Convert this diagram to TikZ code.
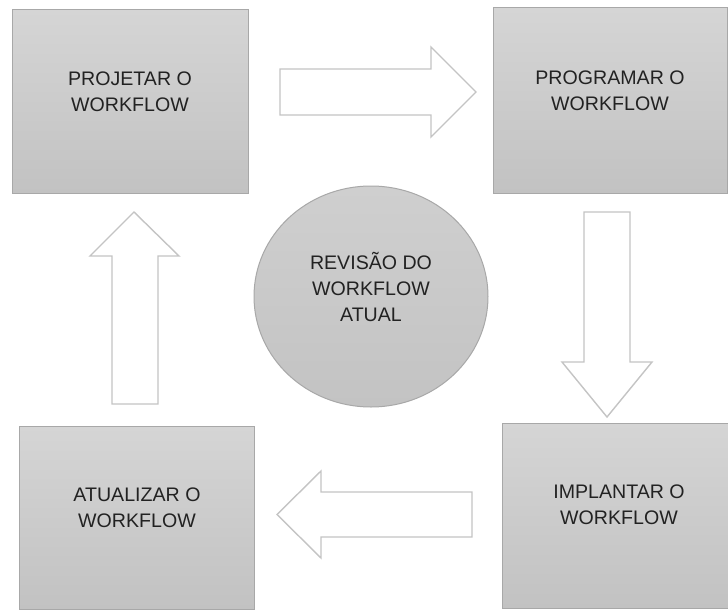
\documentclass[tikz,border=0pt]{standalone}
\usepackage{fontspec}
\setmainfont{Liberation Sans}
\usetikzlibrary{shapes.geometric}
\definecolor{boxtop}{HTML}{D5D5D5}
\definecolor{boxbot}{HTML}{C2C2C2}
\definecolor{hubtop}{HTML}{CFCFCF}
\definecolor{hubbot}{HTML}{C3C3C3}
\definecolor{boxedge}{HTML}{A8A8A8}
\definecolor{arrowedge}{HTML}{C4C4C4}
\definecolor{ink}{HTML}{222222}
\begin{document}
\begin{tikzpicture}[x=1pt,y=-1pt,
  stepbox/.style={draw=boxedge, line width=1pt, top color=boxtop, bottom color=boxbot, inner sep=0pt},
  hub/.style={ellipse, draw=boxedge, line width=1pt, top color=hubtop, bottom color=hubbot, inner sep=0pt},
  lbl/.style={text=ink, align=center, inner sep=0pt, font=\fontsize{19.6}{25.7}\selectfont},
  blockarrow/.style={draw=arrowedge, line width=1.4pt, fill=white, line join=miter}]
\useasboundingbox (0,0) rectangle (728,610);
\fill[white] (0,0) rectangle (728,610);

% four process boxes
\node[stepbox, minimum width=236pt, minimum height=183pt] (projetar) at (130,101.5) {};
\node[stepbox, minimum width=234pt, minimum height=185pt] (programar) at (610,100.5) {};
\node[stepbox, minimum width=234pt, minimum height=185pt] (implantar) at (619,515.5) {};
\node[stepbox, minimum width=235pt, minimum height=183pt] (atualizar) at (136.5,517.5) {};

% central review circle
\node[hub, minimum width=234pt, minimum height=221pt] (revisao) at (371,296.5) {};

% labels
\node[lbl] (tprojetar) at (130,92) {PROJETAR O\\WORKFLOW};
\node[lbl] (tprogramar) at (610,91) {PROGRAMAR O\\WORKFLOW};
\node[lbl] (timplantar) at (619,504.5) {IMPLANTAR O\\WORKFLOW};
\node[lbl] (tatualizar) at (137,508) {ATUALIZAR O\\WORKFLOW};
\node[lbl] (trevisao) at (371,287) {REVISÃO DO\\WORKFLOW\\ATUAL};

% block arrows of the cycle
\draw[blockarrow] (280,69) -- (431,69) -- (431,47) -- (476,92) -- (431,137) -- (431,115) -- (280,115) -- cycle;
\draw[blockarrow] (584,212) -- (630,212) -- (630,362) -- (652,362) -- (607,417) -- (562,362) -- (584,362) -- cycle;
\draw[blockarrow] (472,492) -- (321,492) -- (321,471) -- (277,514.5) -- (321,558) -- (321,537) -- (472,537) -- cycle;
\draw[blockarrow] (112,404) -- (112,256) -- (90,256) -- (134,212) -- (179,256) -- (158,256) -- (158,404) -- cycle;
\end{tikzpicture}
\end{document}
